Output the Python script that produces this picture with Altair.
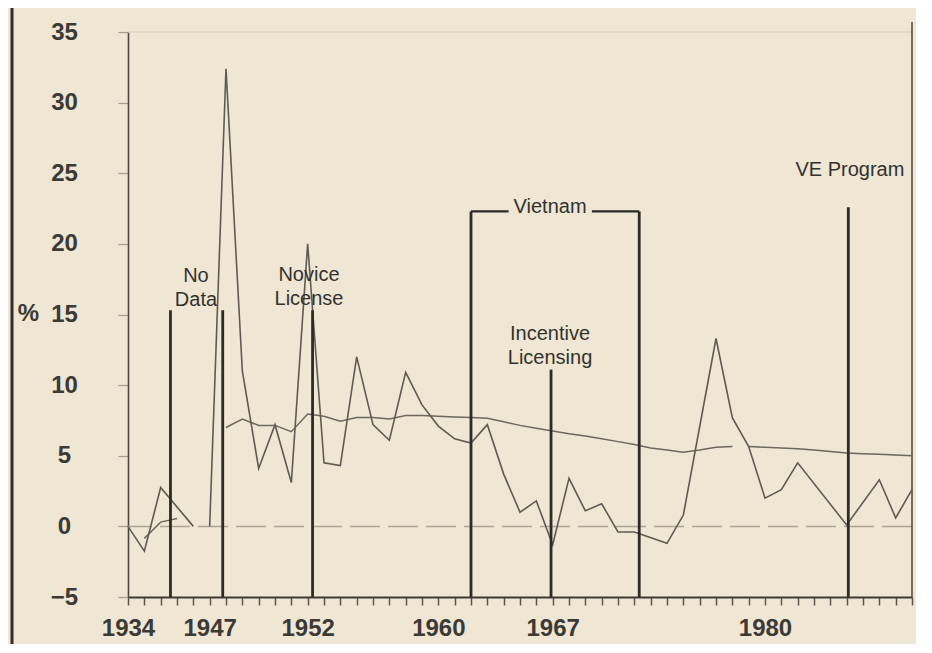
import altair as alt
import pandas as pd

# ---------------- data ----------------
# x positions are slots on the chart's (compressed) year axis, one tick per slot
JAG_SLOTS = [0, 1, 2, 4,
             5, 6, 7, 8, 9, 10, 11, 12, 13, 14, 15, 16, 17, 18, 19, 20, 21, 22, 23, 24, 25,
             26, 27, 28, 29, 30, 31, 33, 34, 36, 37, 38, 39, 40, 41, 44, 46, 47, 48]
JAG_VALUES = [0, -1.75, 2.75, 0,
              0, 32.4, 11.0, 4.1, 7.2, 3.1, 20.0, 4.5, 4.3, 12.0, 7.2, 6.1, 10.9, 8.6, 7.1, 6.2, 5.9, 7.2, 3.7, 1.0, 1.8,
              -1.3, 3.4, 1.1, 1.6, -0.4, -0.4, -1.2, 0.8, 13.3, 7.7, 5.65, 2.0, 2.6, 4.5, 0.1, 3.3, 0.6, 2.6]
JAG_SEG = [0] * 4 + [1] * 39

TREND_SLOTS = [1, 2, 3,
               6, 7, 8, 9, 10, 11, 12, 13, 14, 15, 16, 17, 18, 19, 20, 21, 22, 23, 24, 25, 26, 27,
               28, 29, 30, 31, 32, 33, 34, 35, 36, 37,
               38, 39, 40, 41, 42, 43, 44, 45, 46, 47, 48]
TREND_VALUES = [-0.85, 0.3, 0.55,
                7.0, 7.6, 7.15, 7.15, 6.7, 7.95, 7.8, 7.45, 7.7, 7.7, 7.6, 7.85, 7.85, 7.8, 7.75, 7.7, 7.65, 7.4, 7.15, 6.95, 6.75, 6.55,
                6.4, 6.2, 6.0, 5.8, 5.55, 5.4, 5.25, 5.4, 5.6, 5.65,
                5.65, 5.6, 5.55, 5.5, 5.4, 5.3, 5.2, 5.15, 5.1, 5.05, 5.0]
TREND_SEG = [0] * 3 + [1] * 32 + [2] * 11

TICK_SLOTS = [0, 5, 11, 19, 26, 39]
TICK_LABELS = ["1934", "1947", "1952", "1960", "1967", "1980"]

EVENT_SLOTS = [2.6, 5.8, 11.3, 21.0, 25.9, 31.3, 44.1]
EVENT_TOPS = [15.3, 15.3, 15.3, 22.3, 11.1, 22.3, 22.6]

BRACKET_FROM = [21.0, 28.4]
BRACKET_TO = [23.3, 31.3]
BRACKET_LEVEL = [22.3, 22.3]

NOTE_TEXT = ["No\nData", "Novice\nLicense", "Vietnam", "Incentive\nLicensing", "VE Program"]
NOTE_SLOTS = [4.16, 11.08, 25.84, 25.84, 44.2]
NOTE_VALUES = [17.75, 17.8, 22.6, 13.6, 25.25]

X_MIN, X_MAX = 0, 48
Y_MIN, Y_MAX = -5, 35

# ---------------- styling ----------------
BG = "#efe6d4"
INK = "#33322d"
LINE = "#5f5b52"
FONT = "Liberation Sans"

X_SCALE = alt.Scale(domain=[X_MIN, X_MAX], nice=False, zero=False)
Y_SCALE = alt.Scale(domain=[Y_MIN, Y_MAX], nice=False, zero=False)

label_expr = " : ".join(f"datum.value == {s} ? '{l}'" for s, l in zip(TICK_SLOTS, TICK_LABELS)) + " : ''"

X_AXIS = alt.Axis(values=list(range(X_MIN, X_MAX + 1)), labelExpr=label_expr, title=None,
                  grid=False, tickSize=8, tickWidth=1.5, tickColor="#5a564d",
                  domainColor="#3e3b35", domainWidth=1.8, labelFont=FONT, labelFontSize=24,
                  labelFontWeight="bold", labelColor="#3b3a34", labelPadding=30,
                  labelBaseline="alphabetic", labelAngle=0, labelFlush=False, labelOverlap=False)
Y_AXIS = alt.Axis(values=list(range(Y_MIN, Y_MAX + 1, 5)), title="%", grid=False,
                  tickSize=10, tickWidth=1.2, tickColor="#a49e92",
                  domainColor="#4a463f", domainWidth=1.6, labelFont=FONT, labelFontSize=24,
                  labelFontWeight="bold", labelColor="#3b3a34", labelAlign="center",
                  labelPadding=54, titleAngle=0, titleX=-100, titleY=281, titleAlign="center",
                  titleBaseline="middle", titleFont=FONT, titleFontSize=24, titleFontWeight="bold",
                  titleColor="#3b3a34", labelFlush=False)


def X(field):
    return alt.X(field, type="quantitative", scale=X_SCALE, axis=X_AXIS)


def Y(field):
    return alt.Y(field, type="quantitative", scale=Y_SCALE, axis=Y_AXIS)


jag = pd.DataFrame({"slot": JAG_SLOTS, "value": JAG_VALUES, "seg": JAG_SEG})
trend = pd.DataFrame({"slot": TREND_SLOTS, "value": TREND_VALUES, "seg": TREND_SEG})
events = pd.DataFrame({"slot": EVENT_SLOTS, "top": EVENT_TOPS, "base": [Y_MIN] * len(EVENT_SLOTS)})
bracket = pd.DataFrame({"a": BRACKET_FROM, "b": BRACKET_TO, "level": BRACKET_LEVEL})
notes = pd.DataFrame({"slot": NOTE_SLOTS, "value": NOTE_VALUES, "text": NOTE_TEXT})
zero = pd.DataFrame({"value": [0]})
topline = pd.DataFrame({"value": [Y_MAX]})
frame = pd.DataFrame({"slot": [X_MAX], "base": [Y_MIN], "top": [Y_MAX + 0.7]})

zero_rule = alt.Chart(zero).mark_rule(color="#aba495", strokeWidth=1.5, strokeDash=[30, 8]).encode(y=Y("value"))
top_rule = alt.Chart(topline).mark_rule(color="#d3cab8", strokeWidth=1.2).encode(y=Y("value"))
frame_rule = alt.Chart(frame).mark_rule(color="#4a463f", strokeWidth=1.5).encode(
    x=X("slot"), y=Y("base"), y2="top:Q")

jag_line = alt.Chart(jag).mark_line(color=LINE, strokeWidth=1.6).encode(
    x=X("slot"), y=Y("value"), detail="seg:N")
trend_line = alt.Chart(trend).mark_line(color="#6d685e", strokeWidth=1.5).encode(
    x=X("slot"), y=Y("value"), detail="seg:N")

event_rules = alt.Chart(events).mark_rule(color="#2c2b26", strokeWidth=2.8).encode(
    x=X("slot"), y=Y("base"), y2="top:Q")
bracket_rules = alt.Chart(bracket).mark_rule(color="#2c2b26", strokeWidth=2.2).encode(
    x=X("a"), x2="b:Q", y=Y("level"))

note_text = alt.Chart(notes).mark_text(font=FONT, fontSize=20, lineBreak="\n", lineHeight=24,
                                       align="center", baseline="middle", color=INK).encode(
    x=X("slot"), y=Y("value"), text="text:N")

left_border = alt.Chart(zero).mark_rule(color="#2d2c27", strokeWidth=3).encode(
    x=alt.value(-116), y=alt.value(-24), y2=alt.value(612))

chart = alt.layer(
    top_rule, zero_rule, frame_rule, trend_line, jag_line, event_rules, bracket_rules, note_text, left_border
).properties(
    width=784, height=565,
    autosize=alt.AutoSizeParams(type="none"),
    padding={"left": 120, "top": 24, "right": 4, "bottom": 47},
).configure(background=BG).configure_view(stroke=None)

chart.save("out.html", embed_options={"renderer": "svg", "actions": False})
